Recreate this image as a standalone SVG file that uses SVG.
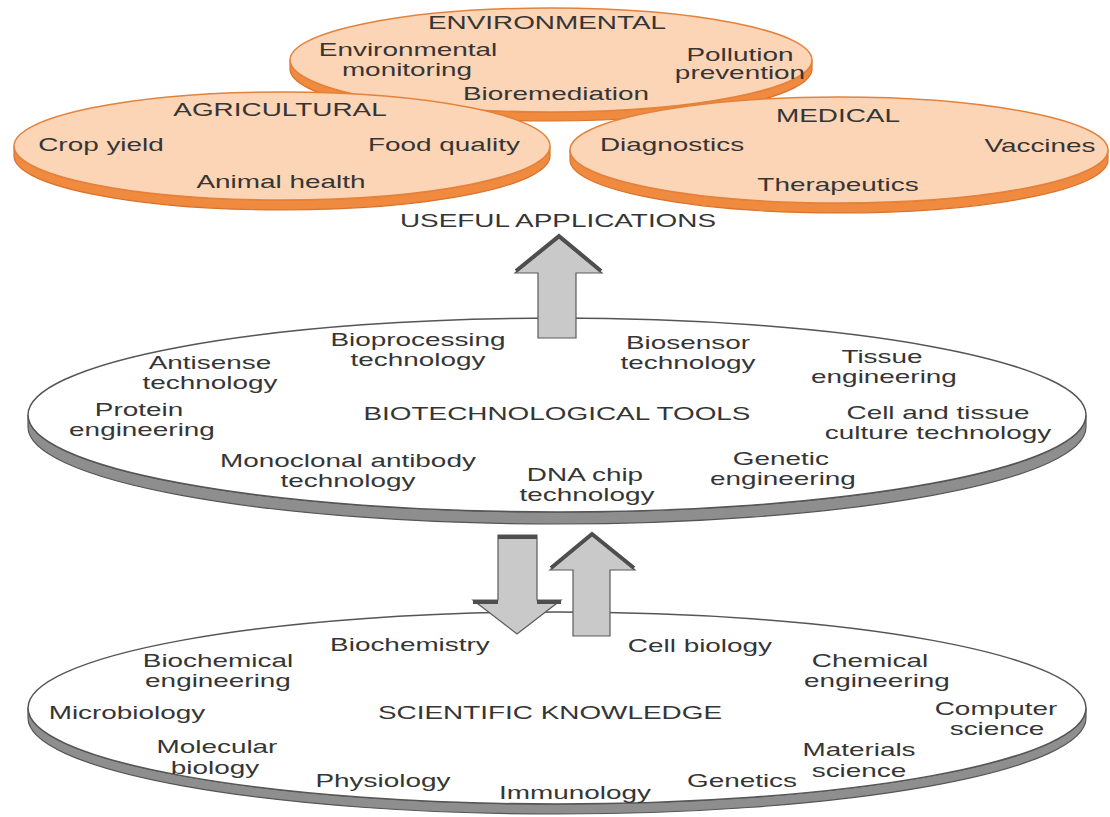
<svg xmlns="http://www.w3.org/2000/svg" width="1110" height="817" viewBox="0 0 1110 817">
<style>
.t{font-family:"Liberation Sans",Arial,Helvetica,sans-serif;font-size:18px;fill:#353535;text-anchor:middle;transform-box:fill-box;transform-origin:center;transform:scaleX(1.55)}
.of{fill:#fcd4b6;stroke:#e4823c;stroke-width:1.5}
.oe{fill:#ef8a3e;stroke:#d9722c;stroke-width:1.2}
.gf{fill:#ffffff;stroke:#555555;stroke-width:1.5}
.ge{fill:#8e8e8e;stroke:#555555;stroke-width:1.2}
.ar{fill:#c9c9c9;stroke:#5a5a5a;stroke-width:1.2;stroke-linejoin:miter}
.band{fill:none;stroke:#4e4e4e;stroke-width:4;stroke-linecap:butt}
</style>
<rect width="1110" height="817" fill="#ffffff"/>

<g id="environmental">
<path class="oe" d="M290,60 L290,69 A261,52 0 0 0 812,69 L812,60 A261,52 0 0 1 290,60 Z"/>
<ellipse class="of" cx="551" cy="60" rx="261" ry="52"/>
<text class="t" x="547" y="29">ENVIRONMENTAL</text>
<text class="t" x="408" y="56">Environmental</text>
<text class="t" x="407" y="76">monitoring</text>
<text class="t" x="740" y="61">Pollution</text>
<text class="t" x="740" y="79">prevention</text>
<text class="t" x="556" y="100">Bioremediation</text>
</g>

<g id="agricultural">
<path class="oe" d="M14,146 L14,156 A268,54 0 0 0 550,156 L550,146 A268,54 0 0 1 14,146 Z"/>
<ellipse class="of" cx="282" cy="146" rx="268" ry="54"/>
<text class="t" x="280" y="116">AGRICULTURAL</text>
<text class="t" x="101" y="151">Crop yield</text>
<text class="t" x="444" y="151">Food quality</text>
<text class="t" x="281" y="188">Animal health</text>
</g>

<g id="medical">
<path class="oe" d="M570,150 L570,160 A269,53 0 0 0 1108,160 L1108,150 A269,53 0 0 1 570,150 Z"/>
<ellipse class="of" cx="839" cy="150" rx="269" ry="53"/>
<text class="t" x="838" y="122">MEDICAL</text>
<text class="t" x="672" y="151">Diagnostics</text>
<text class="t" x="1040" y="152">Vaccines</text>
<text class="t" x="838" y="191">Therapeutics</text>
</g>

<g id="useful-applications">
<text class="t" x="558" y="227">USEFUL APPLICATIONS</text>
</g>

<g id="biotechnological-tools">
<path class="ge" d="M28,415 L28,427 A529,97 0 0 0 1086,427 L1086,415 A529,97 0 0 1 28,415 Z"/>
<ellipse class="gf" cx="557" cy="415" rx="529" ry="97"/>
<text class="t" x="210" y="369">Antisense</text>
<text class="t" x="210" y="389">technology</text>
<text class="t" x="418" y="346">Bioprocessing</text>
<text class="t" x="418" y="366">technology</text>
<text class="t" x="688" y="349">Biosensor</text>
<text class="t" x="688" y="369">technology</text>
<text class="t" x="882" y="363">Tissue</text>
<text class="t" x="884" y="383">engineering</text>
<text class="t" x="139" y="416">Protein</text>
<text class="t" x="142" y="436">engineering</text>
<text class="t" x="557" y="420">BIOTECHNOLOGICAL TOOLS</text>
<text class="t" x="938" y="419">Cell and tissue</text>
<text class="t" x="938" y="439">culture technology</text>
<text class="t" x="348" y="467">Monoclonal antibody</text>
<text class="t" x="348" y="487">technology</text>
<text class="t" x="585" y="481">DNA chip</text>
<text class="t" x="587" y="501">technology</text>
<text class="t" x="781" y="465">Genetic</text>
<text class="t" x="783" y="485">engineering</text>
</g>

<g id="scientific-knowledge">
<path class="ge" d="M28,708 L28,718 A529,96 0 0 0 1086,718 L1086,708 A529,96 0 0 1 28,708 Z"/>
<ellipse class="gf" cx="557" cy="708" rx="529" ry="96"/>
<text class="t" x="410" y="651">Biochemistry</text>
<text class="t" x="700" y="652">Cell biology</text>
<text class="t" x="218" y="667">Biochemical</text>
<text class="t" x="218" y="687">engineering</text>
<text class="t" x="870" y="667">Chemical</text>
<text class="t" x="877" y="687">engineering</text>
<text class="t" x="127" y="719">Microbiology</text>
<text class="t" x="550" y="719">SCIENTIFIC KNOWLEDGE</text>
<text class="t" x="996" y="715">Computer</text>
<text class="t" x="997" y="735">science</text>
<text class="t" x="217" y="753">Molecular</text>
<text class="t" x="215" y="774">biology</text>
<text class="t" x="859" y="756">Materials</text>
<text class="t" x="859" y="777">science</text>
<text class="t" x="383" y="787">Physiology</text>
<text class="t" x="575" y="799">Immunology</text>
<text class="t" x="742" y="787">Genetics</text>
</g>

<g id="connectors">
<g id="arrow-tools-to-applications">
<polygon class="ar" points="538,338 538,273 515,273 559,238 602,273 576,273 576,338"/>
<polyline class="band" points="516,271 559,236 601,271"/>
</g>
<g id="arrow-tools-to-knowledge">
<polygon class="ar" points="498,535 537,535 537,600 561,600 517,634 473,600 498,600"/>
<line class="band" x1="498" y1="537" x2="537" y2="537"/>
<line class="band" x1="473" y1="602" x2="498" y2="602"/>
<line class="band" x1="537" y1="602" x2="561" y2="602"/>
</g>
<g id="arrow-knowledge-to-tools">
<polygon class="ar" points="573,636 573,570 550,570 592,535 635,570 610,570 610,636"/>
<polyline class="band" points="551,568 592,534 634,568"/>
</g>
</g>
</svg>
